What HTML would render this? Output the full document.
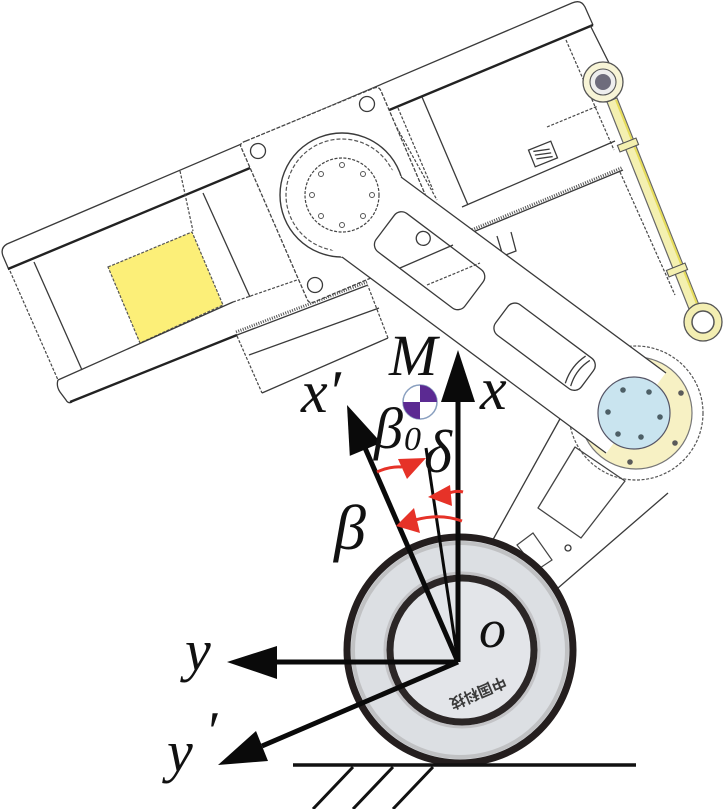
<!DOCTYPE html>
<html><head><meta charset="utf-8"><style>
html,body{margin:0;padding:0;background:#fff;}
svg{display:block;}
.l{stroke:#3a3a3a;stroke-width:1.3;fill:none;}
.d{stroke:#474747;stroke-width:1.2;fill:none;stroke-dasharray:3 1.6;}
.t{stroke:#222;stroke-width:2.4;fill:none;}
.hz{stroke:#555;stroke-width:3;fill:none;stroke-dasharray:1 1.4;}
.lab{font-family:"Liberation Serif",serif;font-style:italic;fill:#111;}
</style></head><body>
<svg width="723" height="809" viewBox="0 0 723 809" xmlns="http://www.w3.org/2000/svg">
<!-- top rail -->
<path class="l" d="M9,270 L3,256 Q0,248 7,244 L572,3 Q581,-1 585,7 L593,25"/>
<path class="t" d="M8,269 L593,25"/>

<!-- left box -->
<path class="d" d="M10,271 L58,380"/>
<path class="l" stroke-width="1.8" d="M34,262 L82,370"/>
<path class="l" stroke-width="1.8" d="M203,193 L250,297"/>
<path class="d" d="M180,171 L193,231"/>
<polygon points="108,267 192,232 223,305 140,343" fill="#fcef78" stroke="#555" stroke-width="1.2" stroke-dasharray="3 1.5"/>

<!-- bottom rail -->
<path class="l" d="M58,380 L233,302"/>
<path class="d" d="M233,302 L300,279"/>
<path class="l" d="M58,380 Q56,386 60,392 L66,400 Q68,404 72,402"/>
<path class="t" d="M70,402 L237,335"/>
<path class="l" stroke-width="1.8" d="M237,335 L368,285"/>
<path class="hz" d="M236,332 L367,282"/>

<!-- box under bottom rail -->
<path class="d" d="M237,336 L262,393"/>
<path class="l" d="M262,393 L388,338"/>
<path class="d" d="M388,338 L368,286"/>
<path class="l" d="M249,355 L379,308"/>

<!-- upper right frame -->
<path class="l" stroke-width="1.8" d="M422,97 L468,205"/>
<path class="d" d="M381,99 L437,200"/>
<path class="d" d="M398,108 L433,190"/>
<path class="l" d="M462,207 L615,141"/>
<path class="l" stroke-width="1.8" d="M473,232 L623,170"/>
<path class="hz" d="M472,229.7 L622,167.7"/>
<path class="d" d="M566,40 L614,150"/>
<path class="l" d="M590,25 L615,75"/>
<path class="d" d="M547,127 L598,106"/>
<path class="d" d="M620,172 L675,295"/>
<path class="l" d="M497,236 L503,256 L516,251 L511,232"/>
<g transform="translate(543,154) rotate(-22)">
<rect x="-12" y="-9" width="24" height="18" class="l"/>
<path class="l" d="M-8,-6 L8,-2 M-8,-2 L8,2 M-8,2 L8,6"/>
</g>

<!-- plate -->
<path d="M246,141 L374,88 Q379,86 381,91 L445,241 Q447,246 442,248 L314,302 Q309,304 307,299 L241,147 Q239,143 246,141 Z" fill="#fff" stroke="#444" stroke-width="1.3" stroke-dasharray="4 1.5"/>
<circle cx="258" cy="151" r="7.5" class="l"/>
<circle cx="367" cy="104" r="7.5" class="l"/>
<circle cx="315" cy="285" r="7.5" class="l"/>
<circle cx="432" cy="232" r="7.5" class="l"/>

<!-- strut -->
<polygon points="563,412 700,438 668,493 562,590 470,565" fill="#fff"/>
<path class="l" d="M566,408 L490,545"/>
<path class="l" d="M668,493 L558,588"/>
<circle cx="636" cy="413" r="67" fill="#fff" stroke="#555" stroke-width="1.2" stroke-dasharray="3 1.6"/>
<polygon points="575,447 625,481 581,538 538,508" fill="none" stroke="#444" stroke-width="1.3" stroke-linejoin="round"/>
<polygon points="517,545 533,533 552,560 537,570" fill="none" stroke="#444" stroke-width="1.2"/>
<circle cx="568" cy="548" r="3" class="l"/>

<!-- hub yellow ring -->
<circle cx="636" cy="413" r="56" fill="#f7f1c4" stroke="#777" stroke-width="1.2"/>
<g fill="#5a5a5a">
<circle cx="640" cy="364" r="2.8"/>
<circle cx="681" cy="393" r="2.8"/>
<circle cx="675" cy="443" r="2.8"/>
<circle cx="630" cy="462" r="2.8"/>
<circle cx="591" cy="434" r="2.8"/>
</g>

<!-- arm -->
<circle cx="342" cy="195" r="62" fill="#fff" stroke="#3a3a3a" stroke-width="1.4"/>
<circle cx="342" cy="195" r="56" fill="none" stroke="#555" stroke-width="1.2" stroke-dasharray="4 2"/>
<polygon points="371.8,154.8 665.8,372.8 606.2,453.2 312.2,235.2" fill="#fff"/>
<path class="l" stroke-width="1.4" d="M401,177 L666,373"/>
<path class="l" stroke-width="1.4" d="M342,257 L606,453"/>
<circle cx="342" cy="195" r="37" fill="none" stroke="#444" stroke-width="1.2" stroke-dasharray="3 1.5"/>
<g fill="none" stroke="#555" stroke-width="1">
<circle cx="342" cy="165" r="2.5"/><circle cx="363" cy="174" r="2.5"/><circle cx="372" cy="195" r="2.5"/><circle cx="363" cy="216" r="2.5"/>
<circle cx="342" cy="225" r="2.5"/><circle cx="321" cy="216" r="2.5"/><circle cx="312" cy="195" r="2.5"/><circle cx="321" cy="174" r="2.5"/>
</g>
<!-- slot 1 -->
<g transform="translate(430,261) rotate(37)">
<rect x="-56" y="-24" width="111" height="48" rx="9" fill="#fff" stroke="#3a3a3a" stroke-width="1.3"/>
<circle cx="-19" cy="-14" r="7" class="l"/>
</g>
<path class="l" d="M400,268 L453,245"/>
<path class="d" d="M427,285 L480,263"/>
<!-- slot 2 -->
<g transform="translate(545,347) rotate(36.7)">
<rect x="-54" y="-19" width="107" height="38" rx="9" fill="#fff" stroke="#3a3a3a" stroke-width="1.3"/>
<path class="l" d="M38,-17 Q32,0 38,17 M44,-16 Q38,0 44,16"/>
</g>

<!-- blue hub -->
<circle cx="634" cy="413" r="36" fill="#c9e4ef" stroke="#556" stroke-width="1.2"/>
<g fill="#4d5f66">
<circle cx="623" cy="390" r="2.8"/><circle cx="649" cy="392" r="2.8"/><circle cx="660" cy="417" r="2.8"/>
<circle cx="641" cy="437" r="2.8"/><circle cx="618" cy="434" r="2.8"/><circle cx="608" cy="412" r="2.8"/>
</g>

<!-- drag brace -->
<polygon points="607,102 617,98 699,305 689,309" fill="#f4f0b0" stroke="#666" stroke-width="1.2"/>
<path d="M616,100 L697,304" stroke="#e6dc5a" stroke-width="2" fill="none"/>
<g transform="translate(628,145) rotate(-21.6)"><rect x="-10" y="-3.5" width="20" height="7" fill="#f4f0b0" stroke="#555" stroke-width="1.1"/></g>
<g transform="translate(677,270) rotate(-21.6)"><rect x="-10" y="-3.5" width="20" height="7" fill="#f4f0b0" stroke="#555" stroke-width="1.1"/></g>
<circle cx="603" cy="82" r="20" fill="#f7f4d6" stroke="#555" stroke-width="1.3"/>
<circle cx="603" cy="82" r="13" fill="#eee" stroke="#555" stroke-width="1.1"/>
<circle cx="603" cy="82" r="8" fill="#6e6c7c"/>
<circle cx="703" cy="322" r="19" fill="#f3eeb2" stroke="#555" stroke-width="1.3"/>
<circle cx="703" cy="322" r="11" fill="#fff" stroke="#555" stroke-width="1.5"/>

<!-- wheel -->
<circle cx="460" cy="650" r="113" fill="#dcdfe3" stroke="#241e1e" stroke-width="7"/>
<circle cx="460" cy="650" r="107" fill="none" stroke="#a9a7aa" stroke-width="4" opacity=".55"/>
<circle cx="462" cy="650" r="72" fill="#e3e5e9" stroke="#2b2626" stroke-width="7"/>
<circle cx="462" cy="650" r="77" fill="none" stroke="#a9a7aa" stroke-width="3" opacity=".5"/>
<text transform="translate(476,688) rotate(157)" text-anchor="middle" font-family="'Noto Sans CJK SC',sans-serif" font-weight="bold" font-size="15" fill="#3a3a3a">中国科技</text>

<!-- ground -->
<path d="M293,765 L636,765" stroke="#111" stroke-width="3.5"/>
<path d="M313,809 L353,767 M353,809 L393,767 M393,809 L433,767" stroke="#111" stroke-width="3"/>

<!-- axes -->
<g stroke="#0a0a0a" stroke-width="5" fill="none">
<path d="M458,662 L458,398"/>
<path d="M458,662 L272,662"/>
<path d="M458,662 L365.5,449"/>
<path d="M458,662 L262,746"/>
</g>
<path d="M458,662 L426,448" stroke="#0a0a0a" stroke-width="3"/>
<g fill="#0a0a0a">
<polygon points="458,350 441,402 475,402"/>
<polygon points="227,662 277,646 277,679"/>
<polygon points="347,405 381.2,442.7 349.8,455.9"/>
<polygon points="218,765 268,761 256,731"/>
</g>

<!-- red arcs -->
<g stroke="#e63228" stroke-width="3" fill="none">
<path d="M377,472 Q390,466 402,467"/>
<path d="M463,492 Q456,490 446,494"/>
<path d="M462,521 Q440,513 415,520"/>
</g>
<g fill="#e63228">
<polygon points="426,458 398,459 407,479"/>
<polygon points="428,497 450,485 452,506"/>
<polygon points="396,526 414,508 420,533"/>
</g>

<!-- M marker -->
<circle cx="420" cy="402" r="17" fill="#fff" stroke="#8aa0c0" stroke-width="1.5"/>
<path d="M420,402 L420,385 A17,17 0 0 1 437,402 Z" fill="#5b2a92"/>
<path d="M420,402 L420,419 A17,17 0 0 1 403,402 Z" fill="#5b2a92"/>

<!-- labels -->
<text class="lab" x="389" y="375" font-size="58">M</text>
<text class="lab" x="480" y="409" font-size="60">x</text>
<text class="lab" x="301" y="412" font-size="60">x′</text>
<text class="lab" x="374" y="448" font-size="58">β</text>
<text class="lab" x="404" y="450" font-size="34">0</text>
<text class="lab" x="424" y="472" font-size="60">δ</text>
<text class="lab" x="334" y="549" font-size="64">β</text>
<text class="lab" x="479" y="647" font-size="54">o</text>
<text class="lab" x="185" y="670" font-size="58">y</text>
<text class="lab" x="167" y="771" font-size="58">y</text>
<text class="lab" x="205" y="750" font-size="56">′</text>
</svg>
</body></html>
